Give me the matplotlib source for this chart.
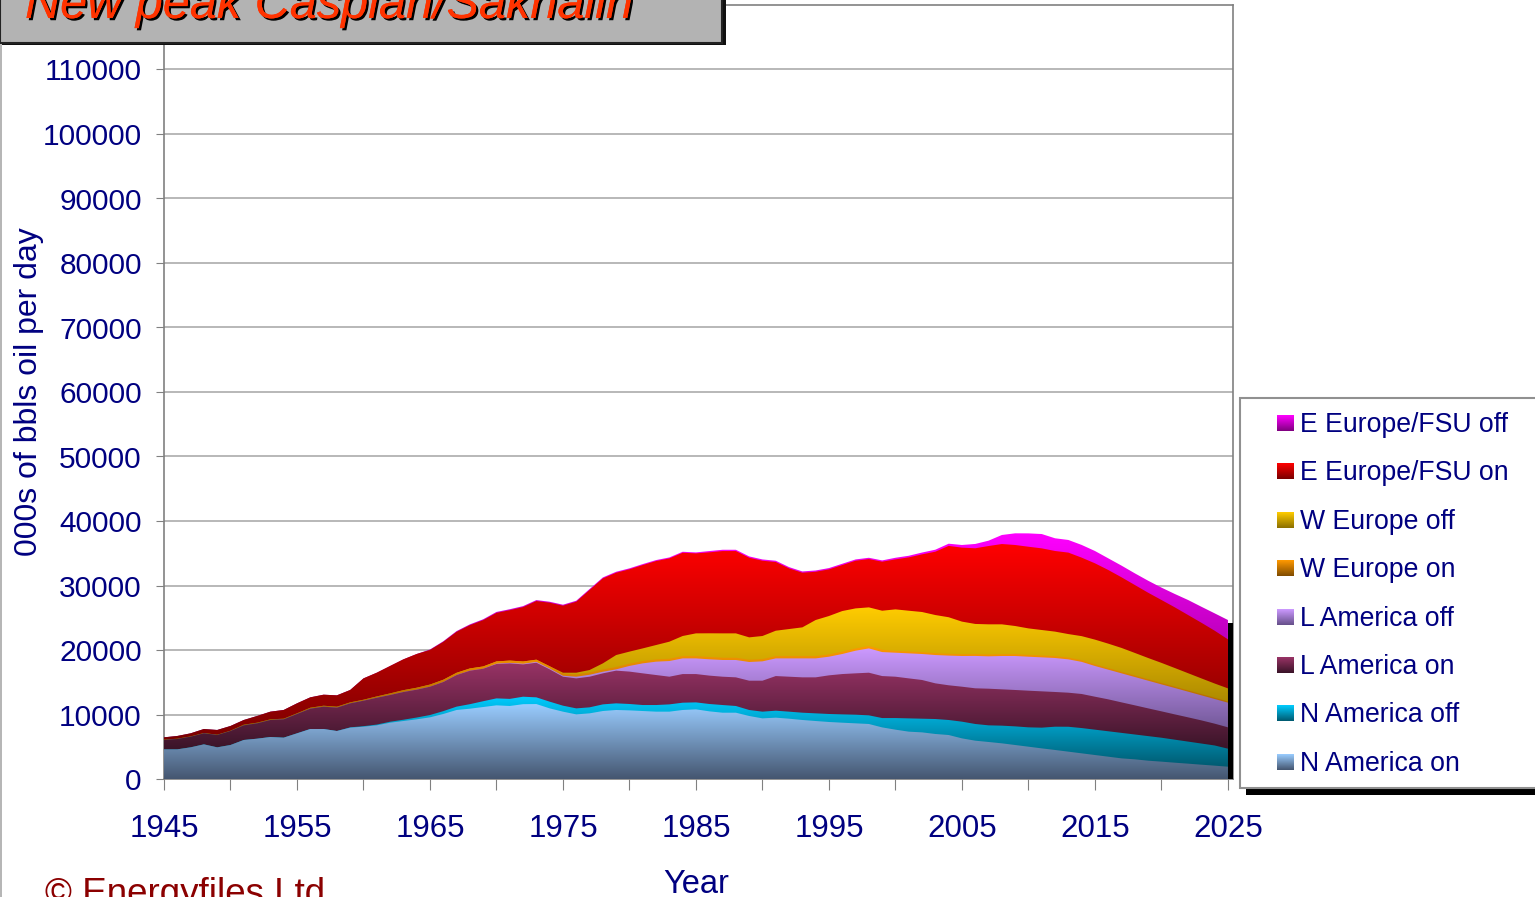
import numpy as np
import matplotlib
matplotlib.use("Agg")
import matplotlib.pyplot as plt
from matplotlib.patches import Rectangle
from matplotlib.colors import to_rgb
import matplotlib.patheffects as pe

plt.rcParams['font.family'] = ['Liberation Sans', 'DejaVu Sans']

# ---------------- data (000s of bbls oil per day) ----------------
years = list(range(1945, 2026))

n_america_on = [4600, 4600, 4910, 5370, 4910, 5270, 6050, 6250, 6510, 6410,
                7080, 7750, 7750, 7440, 7960, 8110, 8320, 8730, 8990, 9250,
                9560, 10080, 10700, 10900, 11160, 11420, 11320, 11600, 11620, 10950,
                10440, 10020, 10180, 10540, 10700, 10640, 10540, 10440, 10440, 10700,
                10800, 10490, 10280, 10280, 9770, 9400, 9510, 9350, 9150, 8990,
                8840, 8730, 8630, 8530, 8000, 7650, 7340, 7230, 6980, 6820,
                6300, 5940, 5740, 5530, 5270, 5010, 4750, 4500, 4240, 3980,
                3720, 3460, 3200, 3050, 2840, 2690, 2530, 2380, 2220, 2070,
                1910]
n_america_off = [0, 0, 0, 0, 0, 0, 0, 0, 0, 0,
                 0, 0, 0, 0, 50, 80, 120, 150, 200, 280,
                 360, 440, 520, 700, 900, 1080, 1100, 1160, 1040, 1040,
                 930, 930, 930, 1030, 1030, 990, 930, 1030, 1130, 1130,
                 1080, 1140, 1190, 1040, 930, 1040, 1080, 1090, 1130, 1190,
                 1240, 1290, 1340, 1340, 1450, 1800, 2060, 2120, 2320, 2330,
                 2590, 2590, 2580, 2740, 2890, 3000, 3210, 3610, 3860, 3920,
                 3930, 3940, 3950, 3850, 3810, 3710, 3570, 3420, 3280, 3130,
                 2790]
l_america_on = [1450, 1600, 1650, 1710, 1910, 2170, 2270, 2380, 2640, 2840,
                3000, 3150, 3460, 3620, 3720, 3950, 4160, 4140, 4300, 4320,
                4390, 4520, 4900, 5190, 5040, 5330, 5510, 5010, 5370, 5010,
                4490, 4650, 4750, 4810, 5070, 5020, 4910, 4650, 4290, 4440,
                4390, 4400, 4390, 4440, 4540, 4800, 5370, 5420, 5480, 5580,
                5990, 6250, 6410, 6610, 6510, 6410, 6200, 6000, 5530, 5380,
                5420, 5530, 5680, 5630, 5640, 5680, 5630, 5380, 5280, 5280,
                5110, 4950, 4730, 4520, 4300, 4090, 3920, 3760, 3590, 3380,
                3310]
l_america_off = [0, 0, 0, 0, 0, 0, 0, 0, 0, 0,
                 0, 0, 0, 0, 0, 0, 0, 0, 0, 0,
                 0, 0, 0, 0, 0, 50, 80, 100, 120, 130,
                 150, 260, 300, 250, 200, 880, 1550, 2070, 2430, 2430,
                 2430, 2530, 2590, 2690, 2900, 3000, 2740, 2840, 2940, 2940,
                 2890, 3110, 3510, 3770, 3720, 3720, 3880, 4030, 4390, 4600,
                 4760, 5020, 5020, 5170, 5270, 5270, 5270, 5270, 5170, 4980,
                 4760, 4600, 4500, 4390, 4290, 4180, 4090, 3980, 3880, 3820,
                 3820]
w_europe_on = [50, 50, 50, 50, 50, 50, 100, 100, 100, 100,
               100, 150, 150, 150, 150, 150, 200, 250, 280, 300,
               330, 350, 350, 350, 350, 350, 350, 350, 350, 350,
               350, 350, 350, 350, 350, 350, 350, 350, 350, 350,
               350, 350, 350, 350, 350, 350, 350, 350, 350, 350,
               350, 350, 350, 350, 350, 280, 280, 280, 280, 280,
               280, 280, 280, 280, 280, 280, 280, 280, 270, 260,
               250, 245, 240, 235, 230, 225, 220, 215, 210, 205,
               200]
w_europe_off = [0, 0, 0, 0, 0, 0, 0, 0, 0, 0,
                0, 0, 0, 0, 0, 0, 0, 0, 0, 0,
                0, 0, 0, 0, 0, 0, 0, 0, 0, 0,
                120, 270, 390, 950, 1870, 1870, 1970, 2230, 2650, 3120,
                3530, 3680, 3780, 3780, 3470, 3580, 3940, 4200, 4460, 5600,
                5960, 6310, 6210, 6010, 6060, 6440, 6330, 6230, 5920, 5670,
                5050, 4680, 4680, 4630, 4370, 4110, 3960, 3810, 3650, 3730,
                3840, 3790, 3700, 3500, 3290, 3110, 2880, 2650, 2420, 2200,
                2020]
e_europe_on = [360, 420, 470, 620, 730, 730, 730, 1040, 1190, 1350,
               1550, 1610, 1710, 1760, 1920, 3310, 3680, 4250, 4780, 5230,
               5360, 5860, 6340, 6700, 7170, 7520, 7810, 8430, 9090, 9850,
               10390, 11010, 12400, 13170, 12760, 12760, 12920, 13020, 12910, 12910,
               12400, 12550, 12760, 12760, 12350, 11670, 10650, 9400, 8470, 7480,
               7230, 7130, 7390, 7490, 7600, 7750, 8270, 8940, 9820, 11060,
               11470, 11730, 12140, 12450, 12560, 12660, 12660, 12500, 12630, 12170,
               11830, 11420, 10950, 10530, 10120, 9750, 9410, 9020, 8630, 8190,
               7600]
e_europe_off = [0, 0, 0, 0, 0, 0, 0, 0, 0, 0,
                0, 0, 0, 0, 0, 0, 0, 0, 0, 0,
                80, 100, 120, 130, 140, 150, 150, 150, 150, 150,
                150, 150, 150, 150, 150, 150, 150, 150, 150, 150,
                150, 200, 200, 200, 200, 200, 200, 200, 200, 200,
                200, 200, 200, 200, 200, 250, 250, 280, 310, 340,
                410, 670, 830, 1400, 1810, 2070, 2220, 1970, 1960, 1970,
                1910, 1810, 1810, 1810, 1860, 1920, 2070, 2330, 2480, 2690,
                3000]

series_names = ['N America on', 'N America off', 'L America on', 'L America off',
                'W Europe on', 'W Europe off', 'E Europe/FSU on', 'E Europe/FSU off']
series_values = [n_america_on, n_america_off, l_america_on, l_america_off,
                 w_europe_on, w_europe_off, e_europe_on, e_europe_off]
# (bright top colour, dark bottom colour) of each gradient fill
series_colors = [('#99CCFF', '#455670'), ('#00CCFF', '#005A70'),
                 ('#993366', '#3A1428'), ('#CC99FF', '#66508A'),
                 ('#FF9900', '#804C00'), ('#FFCC00', '#8C7000'),
                 ('#FF0000', '#7A0000'), ('#FF00FF', '#800080')]

y_ticks = list(range(0, 120000, 10000))
x_ticks = list(range(1945, 2026, 5))
x_tick_labels = [str(y) if (y - 1945) % 10 == 0 else '' for y in x_ticks]

# ---------------- figure ----------------
W, H = 1535, 897
NAVY = '#000080'
fig = plt.figure(figsize=(W / 100, H / 100), dpi=100)
fig.patch.set_facecolor('white')
ax = fig.add_axes([164 / W, (H - 779) / H, (1233 - 164) / W, (779 - 5) / H])

x = np.array(years, dtype=float)
stack = np.array(series_values, dtype=float)
cum = np.cumsum(stack, axis=0)
lowers = np.vstack([np.zeros(len(x)), cum[:-1]])


def grad_rgb(bright, dark, t):
    b = np.array(to_rgb(bright))
    d = np.array(to_rgb(dark))
    return d[None, :] + t[:, None] * (b - d)[None, :]


z = 2
for i in reversed(range(len(series_names))):
    upper = cum[i]
    lower = lowers[i]
    bmin, bmax = lower.min(), upper.max()
    bright, dark = series_colors[i]
    poly = ax.fill_between(x, 0, upper, facecolor='none', edgecolor='none',
                           linewidth=0, zorder=z)
    yy = np.linspace(0, bmax, 600)
    t = np.clip((yy - bmin) / max(bmax - bmin, 1), 0, 1)
    img = grad_rgb(bright, dark, t)[:, None, :]
    im = ax.imshow(img, origin='lower', extent=[x[0], x[-1], 0, bmax],
                   aspect='auto', interpolation='bilinear', zorder=z + 1)
    im.set_clip_path(poly.get_paths()[0], transform=ax.transData)
    z += 2

# black edge at the end of the stack
total = cum[-1]
ax.add_patch(Rectangle((x[-1], 0), 0.38, total[-1] * 0.98, facecolor='black',
                       edgecolor='none', clip_on=False, zorder=z + 1))

ax.set_xlim(1945, 2025.38)
ax.set_ylim(0, 120000)
ax.set_yticks(y_ticks)
ax.set_yticklabels([str(v) for v in y_ticks])
ax.set_xticks(x_ticks)
ax.set_xticklabels(x_tick_labels)
ax.grid(axis='y', color='#ABABAB', linewidth=1.2, zorder=0)
ax.set_axisbelow(True)
for s in ax.spines.values():
    s.set_color('#808080')
    s.set_linewidth(1.2)
ax.tick_params(axis='y', direction='out', length=6, color='#808080',
               labelcolor=NAVY, labelsize=21.5, pad=10)
ax.tick_params(axis='x', direction='out', length=8, color='#808080',
               labelcolor=NAVY, labelsize=22.5, pad=17)
ax.set_ylabel('000s of bbls oil per day', color=NAVY, fontsize=23)
ax.yaxis.set_label_coords((29 - 164) / (1233 - 164), 0.5)
ax.yaxis.label.set_va('center')
ax.set_xlabel('Year', color=NAVY, fontsize=23.5)
ax.xaxis.set_label_coords((696 - 164) / (1233 - 164), (779 - 893) / (779 - 5))
ax.xaxis.label.set_va('baseline')

# ---------------- overlay (pixel coordinates) ----------------
lax = fig.add_axes([0, 0, 1, 1], zorder=10)
lax.patch.set_alpha(0)
lax.axis('off')

# left border of the chart area
lax.plot([1, 1], [45, H], color='#A8A8A8', linewidth=1.2)

# title box
lax.add_patch(Rectangle((2, -10), 724, 55, facecolor='#111111', edgecolor='none',
                        zorder=1))
lax.add_patch(Rectangle((0, -10), 722, 53, facecolor='#B3B3B3', edgecolor='#222222',
                        linewidth=1.5, zorder=1))
lax.text(25, 18, 'New peak Caspian/Sakhalin', fontsize=35, style='italic',
         color='#FF3300', va='baseline', ha='left', zorder=2,
         path_effects=[pe.withSimplePatchShadow(offset=(1.6, -1.6),
                                                shadow_rgbFace='black', alpha=1.0),
                       pe.Normal()])

# legend
lax.add_patch(Rectangle((1246, 404), 400, 391, facecolor='black', edgecolor='none',
                        zorder=1))
lax.add_patch(Rectangle((1240, 398), 400, 390, facecolor='white', edgecolor='#909090',
                        linewidth=1.5, zorder=1))
leg_y0, leg_dy = 423, 48.4
for k, i in enumerate(reversed(range(len(series_names)))):
    yc = leg_y0 + k * leg_dy
    bright, dark = series_colors[i]
    t = np.linspace(1, 0, 40)
    sw = grad_rgb(bright, dark, t)[:, None, :]
    lax.imshow(sw, origin='upper', extent=[1277, 1294, yc + 8, yc - 8],
               aspect='auto', interpolation='bilinear', zorder=3)
    lax.text(1300, yc + 2, series_names[i], fontsize=19.2, color=NAVY,
             va='center', ha='left', zorder=3)

# copyright
lax.text(45, 904, '\u00a9 Energyfiles Ltd', fontsize=26.5, color='#8B0000',
         va='baseline', ha='left', zorder=3)

lax.set_xlim(0, W)
lax.set_ylim(H, 0)

fig.savefig('out.png', dpi=100, facecolor='white')
